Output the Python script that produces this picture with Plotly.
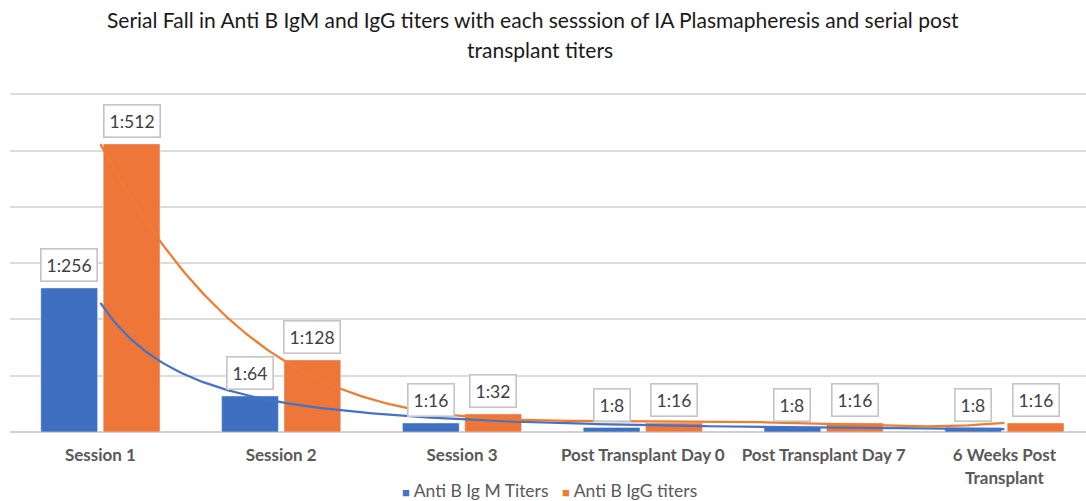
import numpy as np
import plotly.graph_objects as go

categories = ["Session 1", "Session 2", "Session 3", "Post Transplant Day 0",
              "Post Transplant Day 7", "6 Weeks Post<br>Transplant"]
igm_titers = [256, 64, 16, 8, 8, 8]
igg_titers = [512, 128, 32, 16, 16, 16]
igm_name = "Anti B Ig M Titers"
igg_name = "Anti B IgG titers"
title_lines = ["Serial Fall in Anti B IgM and IgG titers with each sesssion of IA Plasmapheresis and serial post",
               "transplant titers"]

W, H = 1086, 508
SCALE = 338 / 601          # px per titer unit
YMAX = 606
ML, MR = 10, 0
MB = H - 432
PH = YMAX * SCALE
MT = 432 - PH
PW = W - ML - MR
BLUE_BAR = "#3F6FC1"
ORANGE_BAR = "#EE7638"
BLUE_LINE = "#4472C4"
ORANGE_LINE = "#ED7D31"
FONT = "Lato"
BARGAP = 0.31
BARGROUPGAP = 0.09

x = np.arange(1, len(categories) + 1)

fig = go.Figure()
fig.add_trace(go.Bar(x=x, y=igm_titers, name=igm_name, marker_color=BLUE_BAR))
fig.add_trace(go.Bar(x=x, y=igg_titers, name=igg_name, marker_color=ORANGE_BAR))

# trendlines (Excel-style): power fit for IgM, polynomial (order 4) for IgG
xs = np.linspace(1, len(categories), 300)
pw = np.polyfit(np.log(x), np.log(igm_titers), 1)
igm_trend = np.exp(np.polyval(pw, np.log(xs)))
pc = np.polyfit(x, igg_titers, 4)
igg_trend = np.polyval(pc, xs)
fig.add_trace(go.Scatter(x=xs, y=igm_trend, mode="lines", showlegend=False,
                         line=dict(color=BLUE_LINE, width=2.25), hoverinfo="skip"))
fig.add_trace(go.Scatter(x=xs, y=igg_trend, mode="lines", showlegend=False,
                         line=dict(color=ORANGE_LINE, width=2.25), hoverinfo="skip"))

off = (1 - BARGAP) / 4
annotations = []
for xi, vm, vg in zip(x, igm_titers, igg_titers):
    for dx, v in ((-off, vm), (off, vg)):
        annotations.append(dict(
            x=xi + dx, y=v, xref="x", yref="y", text=f"1:{v}", showarrow=False,
            yanchor="bottom", yshift=6, bgcolor="white", bordercolor="#c4c4c4",
            borderwidth=1.6, borderpad=5,
            font=dict(family=FONT, size=17.5, color="#404040")))

def py(screen_y):
    return (H - screen_y - MB) / PH

def px(screen_x):
    return (screen_x - ML) / PW

for txt, cx, cy in zip(title_lines, (533, 540), (20, 50)):
    annotations.append(dict(
        text=txt, x=px(cx), y=py(cy), xref="paper", yref="paper",
        xanchor="center", yanchor="middle", showarrow=False,
        font=dict(family=FONT, size=21, color="#1a1a1a")))

# legend (Excel style: small squares right next to the text)
sq = "<span style='color:{c};font-size:13px'>■</span>"
legend_text = (sq.format(c=BLUE_LINE) + " " + igm_name + "   " +
               sq.format(c=ORANGE_LINE) + " " + igg_name)
annotations.append(dict(
    text=legend_text, x=px(400), y=py(490), xref="paper", yref="paper",
    xanchor="left", yanchor="middle", showarrow=False,
    font=dict(family=FONT, size=17.5, color="#595959")))

fig.update_layout(
    width=W, height=H,
    margin=dict(l=ML, r=MR, t=MT, b=MB),
    paper_bgcolor="white", plot_bgcolor="white",
    barmode="group", bargap=BARGAP, bargroupgap=BARGROUPGAP,
    showlegend=False,
    annotations=annotations,
    xaxis=dict(tickmode="array", tickvals=list(x), ticktext=categories,
               range=[0.5, 0.5 + 1076 / 180.8], showgrid=False, zeroline=False,
               automargin=False,
               ticks="outside", ticklen=8, tickcolor="rgba(0,0,0,0)",
               tickfont=dict(family=FONT, size=17, color="#595959", weight="bold")),
    yaxis=dict(range=[0, YMAX], dtick=100, showticklabels=False, showgrid=True,
               automargin=False,
               gridcolor="#dcdcdc", gridwidth=1.5, zeroline=True,
               zerolinecolor="#d0d0d0", zerolinewidth=1.5),
)

fig.write_html("out.html", config={"displayModeBar": False},
               post_script="document.body.style.margin='0';")
